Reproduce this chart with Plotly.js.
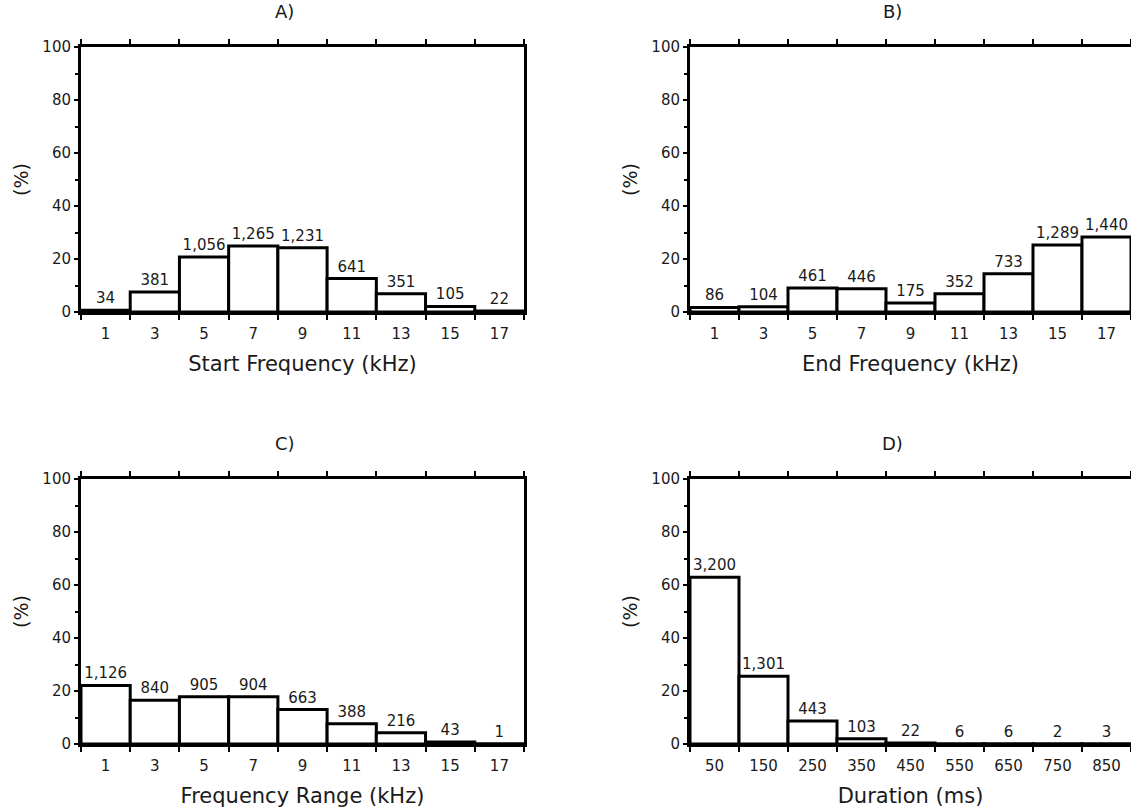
<!DOCTYPE html>
<html>
<head>
<meta charset="utf-8">
<script src="https://cdn.plot.ly/plotly-3.0.1.min.js"></script>
<style>html,body{margin:0;padding:0;background:#fff;}#chart{width:1131px;height:811px;}</style>
</head>
<body>
<div id="chart"></div>
<script>
// Frequency bins (kHz): centres and edges
var freqCenters = [1, 3, 5, 7, 9, 11, 13, 15, 17];
var freqEdges = [0, 2, 4, 6, 8, 10, 12, 14, 16, 18];
var durCenters = [50, 150, 250, 350, 450, 550, 650, 750, 850];
var durEdges = [0, 100, 200, 300, 400, 500, 600, 700, 800, 900];

// A) Start frequency
var startPct = [0.7, 7.5, 20.8, 24.9, 24.2, 12.6, 6.9, 2.1, 0.4];
var startCounts = [34, 381, 1056, 1265, 1231, 641, 351, 105, 22];
// B) End frequency
var endPct = [1.7, 2.0, 9.1, 8.8, 3.4, 6.9, 14.4, 25.3, 28.3];
var endCounts = [86, 104, 461, 446, 175, 352, 733, 1289, 1440];
// C) Frequency range
var rangePct = [22.1, 16.5, 17.8, 17.8, 13.0, 7.6, 4.2, 0.8, 0.1];
var rangeCounts = [1126, 840, 905, 904, 663, 388, 216, 43, 1];
// D) Duration
var durPct = [62.9, 25.6, 8.7, 2.0, 0.4, 0.1, 0.1, 0.05, 0.06];
var durCounts = [3200, 1301, 443, 103, 22, 6, 6, 2, 3];

var panelTitles = ['A)', 'B)', 'C)', 'D)'];
var xTitles = ['Start Frequency (kHz)', 'End Frequency (kHz)', 'Frequency Range (kHz)', 'Duration (ms)'];
var yTitle = '(%)';

var FONT = 'DejaVu Sans, Verdana, sans-serif';
var TXT = '#1a1a1a';

function fmt(n){ return n.toLocaleString('en-US'); }

function barTrace(x, y, counts, w, xa, ya){
  return {
    type: 'bar', x: x, y: y, width: w,
    xaxis: xa, yaxis: ya,
    marker: {color: '#ffffff', line: {color: '#000000', width: 3}},
    text: counts.map(fmt), textposition: 'outside', cliponaxis: false,
    constraintext: 'none',
    textfont: {family: FONT, size: 15, color: TXT},
    hoverinfo: 'skip', showlegend: false
  };
}

var data = [
  barTrace(freqCenters, startPct, startCounts, 2, 'x', 'y'),
  barTrace(freqCenters, endPct, endCounts, 2, 'x2', 'y2'),
  barTrace(freqCenters, rangePct, rangeCounts, 2, 'x3', 'y3'),
  barTrace(durCenters, durPct, durCounts, 100, 'x4', 'y4')
];

function xAxis(dom, anchor, centers, edges, title){
  return {
    domain: dom, anchor: anchor,
    range: [edges[0], edges[edges.length-1]],
    tickmode: 'array', tickvals: centers, ticktext: centers.map(String),
    ticks: 'outside', ticklen: 0, tickwidth: 0,
    ticklabelstandoff: 6,
    minor: {tickmode: 'array', tickvals: edges, ticks: 'outside', ticklen: 5, tickwidth: 2, tickcolor: '#000', showgrid: false},
    showline: true, linewidth: 3, linecolor: '#000', mirror: 'ticks',
    showgrid: false, zeroline: false, fixedrange: true,
    tickfont: {family: FONT, size: 15, color: TXT},
    title: {text: title, font: {family: FONT, size: 21, color: TXT}, standoff: 15}
  };
}
function yAxis(dom, anchor){
  return {
    domain: dom, anchor: anchor, range: [0, 100],
    tickmode: 'linear', tick0: 0, dtick: 20,
    ticks: 'outside', ticklen: 4, tickwidth: 2, tickcolor: '#000',
    minor: {dtick: 10, tick0: 0, ticks: 'outside', ticklen: 3, tickwidth: 2, tickcolor: '#000', showgrid: false},
    showline: true, linewidth: 3, linecolor: '#000', mirror: true,
    showgrid: false, zeroline: false, fixedrange: true,
    tickfont: {family: FONT, size: 15, color: TXT},
    title: {text: yTitle, font: {family: FONT, size: 19, color: TXT}, standoff: 9}
  };
}

var dxL = [0, 0.4219], dxR = [0.58, 1];
var dyT = [0.6198, 1], dyB = [0, 0.3802];

var annotations = panelTitles.map(function(t, i){
  var s = i === 0 ? '' : String(i+1);
  return {
    text: t, xref: 'x' + s + ' domain', yref: 'y' + s + ' domain',
    x: 0.46, y: 1, xanchor: 'center', yanchor: 'bottom', yshift: 23,
    showarrow: false, font: {family: FONT, size: 18, color: TXT}
  };
});

var layout = {
  width: 1131, height: 811,
  margin: {l: 81, r: 0, t: 47, b: 67},
  paper_bgcolor: '#fff', plot_bgcolor: '#fff',
  bargap: 0, showlegend: false,
  font: {family: FONT, color: TXT},
  xaxis: xAxis(dxL, 'y', freqCenters, freqEdges, xTitles[0]),
  xaxis2: xAxis(dxR, 'y2', freqCenters, freqEdges, xTitles[1]),
  xaxis3: xAxis(dxL, 'y3', freqCenters, freqEdges, xTitles[2]),
  xaxis4: xAxis(dxR, 'y4', durCenters, durEdges, xTitles[3]),
  yaxis: yAxis(dyT, 'x'),
  yaxis2: yAxis(dyT, 'x2'),
  yaxis3: yAxis(dyB, 'x3'),
  yaxis4: yAxis(dyB, 'x4'),
  annotations: annotations
};

Plotly.newPlot('chart', data, layout, {displayModeBar: false, staticPlot: true});
</script>
</body>
</html>
